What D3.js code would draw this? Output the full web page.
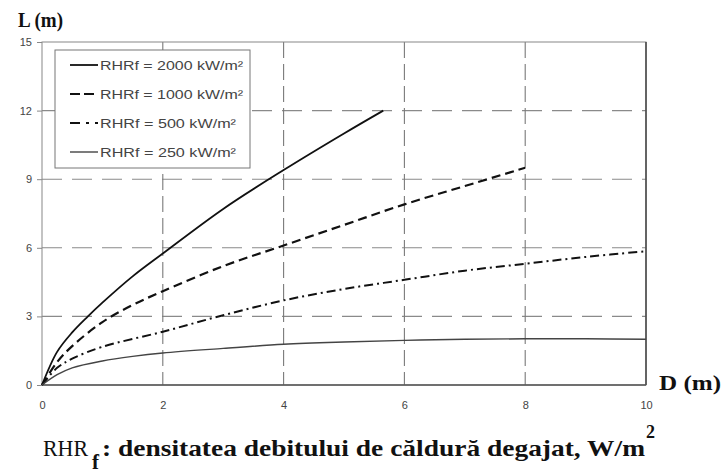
<!DOCTYPE html>
<html>
<head>
<meta charset="utf-8">
<script src="https://cdn.jsdelivr.net/npm/d3@7"></script>
<style>
  body { margin: 0; background: #fff; }
</style>
</head>
<body>
<script>
// values
const xTicks = [0, 2, 4, 6, 8, 10];
const yTicks = [0, 3, 6, 9, 12, 15];

const labels = ["RHRf = 2000 kW/m²", "RHRf = 1000 kW/m²", "RHRf = 500 kW/m²", "RHRf = 250 kW/m²"];

const rhr2000 = [[0,0],[0.25,1.45],[0.5,2.3],[0.76,3],[1,3.6],[1.5,4.75],[2,5.75],[3,7.7],[4,9.4],[5,11.0],[5.65,12]];
const rhr1000 = [[0,0],[0.25,1.0],[0.5,1.7],[1,2.75],[1.5,3.5],[2,4.1],[3,5.2],[4,6.1],[5,7.0],[6,7.9],[7,8.7],[8,9.5]];
const rhr500  = [[0,0],[0.25,0.75],[0.5,1.15],[1,1.67],[2,2.33],[3,3.05],[4,3.7],[5,4.2],[6,4.6],[7,5.0],[8,5.3],[9,5.6],[10,5.85]];
const rhr250  = [[0,0],[0.25,0.45],[0.5,0.75],[1,1.05],[1.5,1.25],[2,1.4],[3,1.6],[4,1.78],[5,1.88],[6,1.95],[7,2.0],[8,2.02],[9,2.02],[10,2.0]];

const series = [rhr2000, rhr1000, rhr500, rhr250];
const styles = [
  {w: 1.8, dash: null, c: "#111"},
  {w: 2.2, dash: "9,5", c: "#111"},
  {w: 2.0, dash: "9,4,2,4", c: "#111"},
  {w: 1.4, dash: null, c: "#444"}
];

const sans = "'Liberation Sans', Arial, sans-serif";
const serif = "'Times New Roman', 'Liberation Serif', Times, serif";

const w = 725, h = 476;
const svg = d3.select("body").append("svg").attr("width", w).attr("height", h);

const x = d3.scaleLinear().domain([0, 10]).range([42, 646]);
const y = d3.scaleLinear().domain([0, 15]).range([385, 42]);

// grid
svg.append("g").selectAll("line")
  .data(yTicks.filter(d => d > 0 && d < 15))
  .enter().append("line")
  .attr("x1", x(0)).attr("x2", x(10))
  .attr("y1", d => y(d)).attr("y2", d => y(d))
  .attr("stroke", "#8a8a8a").attr("stroke-width", 1.1)
  .attr("stroke-dasharray", "20,10");

svg.append("g").selectAll("line")
  .data(xTicks.filter(d => d > 0 && d < 10))
  .enter().append("line")
  .attr("x1", d => x(d)).attr("x2", d => x(d))
  .attr("y1", y(15)).attr("y2", y(0))
  .attr("stroke", "#7a7a7a").attr("stroke-width", 1.1)
  .attr("stroke-dasharray", "16,6");

// frame
svg.append("rect")
  .attr("x", x(0)).attr("y", y(15))
  .attr("width", x(10) - x(0)).attr("height", y(0) - y(15))
  .attr("fill", "none").attr("stroke", "#888").attr("stroke-width", 1);
svg.append("line")
  .attr("x1", x(10)).attr("x2", x(10)).attr("y1", y(15)).attr("y2", y(0))
  .attr("stroke", "#444").attr("stroke-width", 1.5);
svg.append("line")
  .attr("x1", x(0)).attr("x2", x(10)).attr("y1", y(0)).attr("y2", y(0))
  .attr("stroke", "#555").attr("stroke-width", 1.5);

// axes
const yAxis = d3.axisLeft(y).tickValues(yTicks).tickSize(5).tickPadding(5);
const xAxis = d3.axisBottom(x).tickValues(xTicks).tickSize(0).tickPadding(16);

const gy = svg.append("g").attr("transform", `translate(${x(0)},0)`).call(yAxis);
const gx = svg.append("g").attr("transform", `translate(0,${y(0)})`).call(xAxis);
[gy, gx].forEach(g => {
  g.select(".domain").remove();
  g.selectAll("line").attr("stroke", "#888");
  g.selectAll("text").attr("fill", "#444").style("font-size", "11px").style("font-family", sans);
});

// curves
const line = d3.line().x(d => x(d[0])).y(d => y(d[1])).curve(d3.curveCatmullRom);
svg.append("g").selectAll("path")
  .data(series)
  .enter().append("path")
  .attr("d", line)
  .attr("fill", "none")
  .attr("stroke", (d, i) => styles[i].c)
  .attr("stroke-width", (d, i) => styles[i].w)
  .attr("stroke-dasharray", (d, i) => styles[i].dash);

// legend
const lg = svg.append("g");
lg.append("rect")
  .attr("x", 55).attr("y", 50).attr("width", 195).attr("height", 118)
  .attr("fill", "#fff").attr("stroke", "#777").attr("stroke-width", 1);
const legDash = [null, "10,4", "10,6,3,6", null];
const legLen = [143, 143, 136, 136];
labels.forEach((t, i) => {
  const yy = 65 + i * 29;
  lg.append("line")
    .attr("x1", 70).attr("x2", 98).attr("y1", yy).attr("y2", yy)
    .attr("stroke", styles[i].c).attr("stroke-width", styles[i].w)
    .attr("stroke-dasharray", legDash[i]);
  lg.append("text")
    .attr("x", 100).attr("y", yy + 4.5)
    .attr("fill", "#444").style("font-size", "12.5px").style("font-family", sans)
    .attr("textLength", legLen[i]).attr("lengthAdjust", "spacingAndGlyphs")
    .text(t);
});

// titles
const tStyle = sel => sel.style("font-family", serif).style("font-weight", "bold").attr("fill", "#111");
svg.append("text").call(tStyle)
  .attr("x", 18).attr("y", 27).style("font-size", "21px")
  .attr("textLength", 45).attr("lengthAdjust", "spacingAndGlyphs")
  .text("L (m)");
svg.append("text").call(tStyle)
  .attr("x", 659).attr("y", 390).style("font-size", "21px")
  .attr("textLength", 62).attr("lengthAdjust", "spacingAndGlyphs")
  .text("D (m)");

svg.append("text").call(tStyle)
  .attr("x", 43).attr("y", 456).style("font-size", "24px").style("font-weight", "normal")
  .attr("textLength", 45).attr("lengthAdjust", "spacingAndGlyphs")
  .text("RHR");
svg.append("text").call(tStyle)
  .attr("x", 92).attr("y", 469).style("font-size", "21px")
  .text("f");
svg.append("text").call(tStyle)
  .attr("x", 102).attr("y", 456).style("font-size", "24px")
  .attr("textLength", 543).attr("lengthAdjust", "spacingAndGlyphs")
  .text(": densitatea debitului de căldură degajat, W/m");
svg.append("text").call(tStyle)
  .attr("x", 646).attr("y", 438).style("font-size", "18px")
  .text("2");
</script>
</body>
</html>
